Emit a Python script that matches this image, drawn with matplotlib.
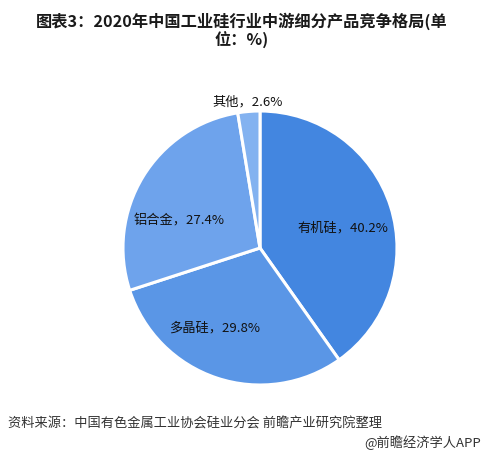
import matplotlib
matplotlib.use("Agg")
import matplotlib.pyplot as plt
import numpy as np

plt.rcParams['font.family'] = ['Noto Sans CJK SC', 'DejaVu Sans']

categories = ["有机硅", "多晶硅", "铝合金", "其他"]
values = [40.2, 29.8, 27.4, 2.6]
colors = ["#4386E0", "#5A96E6", "#6EA3EC", "#83B2F0"]
title = "图表3：2020年中国工业硅行业中游细分产品竞争格局(单\n位：%)"
source = "资料来源：中国有色金属工业协会硅业分会 前瞻产业研究院整理"
credit = "@前瞻经济学人APP"

W, H = 483, 458
fig = plt.figure(figsize=(W/100, H/100), dpi=100)
cx, cy, r = 260, 248, 137
ax = fig.add_axes([(cx - r)/W, (H - cy - r)/H, 2*r/W, 2*r/H])
wedges, _ = ax.pie(values, colors=colors, startangle=90, counterclock=False,
                   radius=1.0, wedgeprops=dict(edgecolor="white", linewidth=2.2))
ax.set_xlim(-1, 1)
ax.set_ylim(-1, 1)
ax.set_aspect('equal')
ax.axis('off')

# label placement: (radius factor, angle offset deg)
place = [(0.62, -4), (0.67, -11), (0.62, 13), (1.07, 0)]
for w, cat, v, (rf, da) in zip(wedges, categories, values, place):
    ang = np.deg2rad((w.theta1 + w.theta2)/2 + da)
    ax.text(rf*np.cos(ang), rf*np.sin(ang), f"{cat}，{v}%",
            ha='center', va='center', fontsize=9.5, color='#111111', clip_on=False)

fig.text(0.5, 1 - 31/H, title, ha='center', va='center', fontsize=11.7,
         fontweight='bold', color='#1a1a1a', linespacing=1.1)
fig.text(8/W, 1 - 424/H, source, ha='left', va='center', fontsize=9.5, color='#333333')
fig.text(481/W, 1 - 443/H, credit, ha='right', va='center', fontsize=9.5, color='#333333')

fig.savefig("out.png", dpi=100)
